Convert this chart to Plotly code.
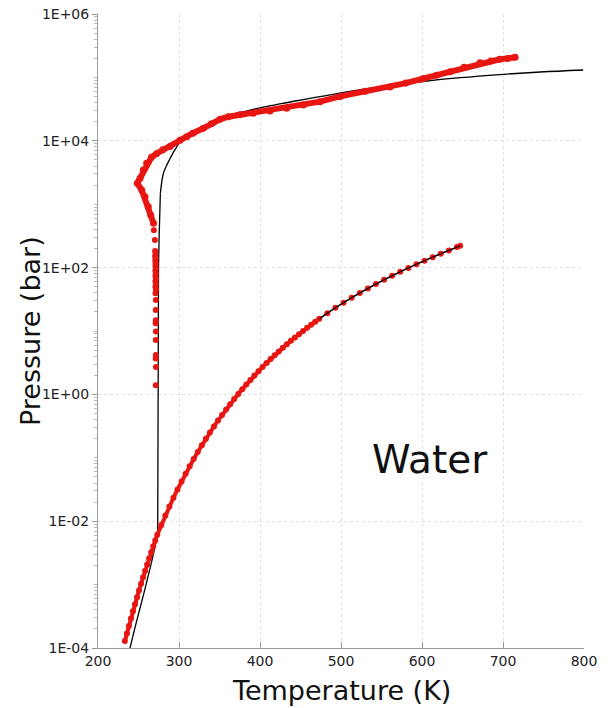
import plotly.graph_objects as go

# ---------------- data (T in K, P in bar) ----------------
# Red: measured vapour / sublimation curve (dense part)
vap_T = [233.15, 235.65, 238.15, 240.65, 243.15, 245.65, 248.15, 250.65, 253.15, 255.65,
         258.15, 260.65, 263.15, 265.65, 268.15, 270.65, 273.15, 278.15, 283.15, 288.15,
         293.15, 298.15, 303.15, 308.15, 313.15, 318.15, 323.15, 328.15, 333.15, 338.15,
         343.15, 348.15, 353.15, 358.15, 363.15, 368.15, 373.15, 378.15, 383.15, 388.15,
         393.15, 398.15, 403.15, 408.15, 413.15, 418.15, 423.15, 428.15, 433.15, 438.15,
         443.15, 448.15, 453.15, 458.15, 463.15, 468.15, 473.15]
vap_P = [1.284e-4, 1.70e-4, 2.233e-4, 2.93e-4, 3.80e-4, 4.92e-4, 6.33e-4, 8.10e-4, 1.032e-3, 1.31e-3,
         1.652e-3, 2.07e-3, 2.599e-3, 3.24e-3, 4.017e-3, 4.96e-3, 6.11e-3, 8.72e-3, 1.228e-2, 1.705e-2,
         2.339e-2, 3.169e-2, 4.246e-2, 5.628e-2, 7.384e-2, 9.593e-2, 0.1235, 0.1576, 0.1995, 0.2504,
         0.3120, 0.3860, 0.4741, 0.5787, 0.7018, 0.8461, 1.0142, 1.2090, 1.4338, 1.6918,
         1.9867, 2.3222, 2.7028, 3.1322, 3.6154, 4.1568, 4.7616, 5.4349, 6.1823, 7.0093,
         7.9219, 8.9260, 10.028, 11.233, 12.552, 13.989, 15.549]
# Red: measured vapour curve (sparse part up to the critical point)
vap2_T = [483.15, 493.15, 503.15, 513.15, 523.15, 533.15, 543.15, 553.15, 563.15, 573.15,
          583.15, 593.15, 603.15, 613.15, 623.15, 633.15, 643.15, 647.1]
vap2_P = [19.08, 23.20, 27.97, 33.47, 39.76, 46.92, 55.03, 64.17, 74.42, 85.88,
          98.65, 112.8, 128.6, 146.0, 165.3, 186.7, 210.4, 220.6]

# Red: melting points, scattered low-pressure part
melt_lo_T = [271.3, 271.5, 271.2, 271.4, 271.3, 271.5, 271.2, 271.4, 271.3, 271.4,
             271.0, 271.6, 270.9, 271.5, 270.8, 271.6, 270.9, 271.4, 270.8, 271.5,
             270.9, 271.3, 270.7, 271.2, 270.6, 271.0, 270.5, 270.2, 269.0]
melt_lo_P = [1.4, 2.7, 3.7, 4.2, 7.2, 9.8, 13.2, 14.8, 21.4, 30.9,
             39.4, 45, 50, 55, 61, 67, 74, 81, 89, 98,
             107, 117, 128, 140, 151, 165, 182, 272, 390]
# Red: melting curve, continuous part (ice Ih -> VII)
melt_T = [268.5, 265.1, 262.1, 258.0, 254.0, 248.5, 251.9, 255.9, 260.1, 266.0,
          272.5, 280.0, 288.9, 301.2, 309.5, 317.0, 330.0, 340.0, 350.6, 360.9,
          375.0, 391.7, 412.3, 433.0, 453.5, 474.0, 499.0, 530.0, 560.5, 580.0,
          601.0, 618.0, 634.6, 652.0, 671.6, 685.0, 696.0, 706.0, 715.0]
melt_P = [500, 676, 912, 1312, 1675, 2138, 2570, 3467, 4416, 5495,
          6310, 7200, 8128, 10230, 11610, 13180, 15740, 18620, 21830, 23990,
          25700, 27160, 29510, 32580, 36730, 41400, 50120, 60260, 70790, 81280,
          95500, 108400, 123000, 144500, 169800, 182000, 192800, 199500, 207500]

# Black: model vapour-pressure curve
mvap_T = [239.5, 248.0, 257.0, 265.5, 273.6, 283.15, 293.15, 303.15, 313.15, 323.15,
          333.15, 343.15, 353.15, 363.15, 373.15, 393.15, 413.15, 433.15, 453.15, 473.15,
          493.15, 513.15, 533.15, 553.15, 573.15, 593.15, 613.15, 633.15, 647.1]
mvap_P = [1.0e-4, 2.75e-4, 7.6e-4, 2.1e-3, 5.8e-3, 1.25e-2, 2.36e-2, 4.25e-2, 7.38e-2, 0.1235,
          0.1995, 0.3120, 0.4741, 0.7018, 1.0142, 1.9867, 3.6154, 6.1823, 10.028, 15.549,
          23.20, 33.47, 46.92, 64.17, 85.88, 112.8, 146.0, 186.7, 220.6]
# Black: model melting curve, near-vertical low-pressure part
mmelt_lo_T = [273.7, 273.9, 274.7, 275.5, 276.2, 277.0]
mmelt_lo_P = [6.0e-3, 1.0, 100, 316, 708, 1480]
# Black: model melting curve, high-pressure part
mmelt_T = [277.0, 280.6, 285.0, 289.0, 295.0, 303.3, 313.6, 330.0, 345.0, 360.9,
           380.0, 400.0, 420.0, 440.0, 460.0, 480.0, 500.0, 530.0, 560.5, 601.0,
           647.0, 696.0, 746.0, 799.0]
mmelt_P = [1480, 3020, 4170, 5250, 7240, 10230, 12880, 16790, 20890, 25120,
           28840, 33110, 37150, 41690, 46240, 51290, 56890, 66070, 74130, 86100,
           98860, 110900, 121600, 130900]

y_tickvals = [1e-4, 1e-2, 1, 1e2, 1e4, 1e6]
y_ticktext = ["1E-04", "1E-02", "1E+00", "1E+02", "1E+04", "1E+06"]
x_tickvals = [200, 300, 400, 500, 600, 700, 800]

RED = "rgb(232,22,18)"
FONT = "DejaVu Sans"

fig = go.Figure()
# black model curves
fig.add_trace(go.Scatter(x=mvap_T, y=mvap_P, mode="lines", line_shape="spline",
                         line=dict(color="black", width=1.3), hoverinfo="skip"))
fig.add_trace(go.Scatter(x=mmelt_lo_T, y=mmelt_lo_P, mode="lines",
                         line=dict(color="black", width=1.3), hoverinfo="skip"))
fig.add_trace(go.Scatter(x=mmelt_T, y=mmelt_P, mode="lines", line_shape="spline",
                         line=dict(color="black", width=1.3), hoverinfo="skip"))
# red measured data
fig.add_trace(go.Scatter(x=vap_T, y=vap_P, mode="lines+markers",
                         line=dict(color=RED, width=4),
                         marker=dict(color=RED, size=6)))
fig.add_trace(go.Scatter(x=vap2_T, y=vap2_P, mode="markers",
                         marker=dict(color=RED, size=6)))
fig.add_trace(go.Scatter(x=melt_lo_T, y=melt_lo_P, mode="markers",
                         marker=dict(color=RED, size=6)))
fig.add_trace(go.Scatter(x=melt_T, y=melt_P, mode="lines+markers",
                         line=dict(color=RED, width=6),
                         marker=dict(color=RED, size=7)))
# black vapour line drawn again on top of the sparse dots
fig.add_trace(go.Scatter(x=mvap_T[19:], y=mvap_P[19:], mode="lines", line_shape="spline",
                         line=dict(color="black", width=1.1), hoverinfo="skip"))

minor_vals = [k * 10.0 ** n for n in range(-4, 6) for k in range(2, 10)] + \
             [10.0 ** n for n in (-3, -1, 1, 3, 5)]

fig.update_layout(
    width=611, height=708,
    margin=dict(l=98, r=27, t=14, b=60),
    paper_bgcolor="white", plot_bgcolor="white",
    showlegend=False,
    font=dict(family=FONT, color="#222"),
    xaxis=dict(
        range=[200, 800], tickvals=x_tickvals,
        showline=True, linecolor="#999", linewidth=1,
        ticks="inside", ticklen=6, tickcolor="#999",
        showgrid=True, gridcolor="#e0e0e0", griddash="dot", gridwidth=1,
        zeroline=False, tickfont=dict(size=14, family=FONT, color="#222"),
        ticklabeloverflow="allow",
        automargin=False,
    ),
    yaxis=dict(
        type="log", range=[-4, 6],
        tickvals=y_tickvals, ticktext=y_ticktext,
        showline=True, linecolor="#999", linewidth=1,
        ticks="outside", ticklen=5, tickcolor="#999",
        minor=dict(tickvals=minor_vals, ticks="outside", ticklen=3,
                   tickcolor="#bbb", showgrid=False),
        showgrid=True, gridcolor="#e0e0e0", griddash="dot", gridwidth=1,
        zeroline=False, tickfont=dict(size=14, family=FONT, color="#222"),
        ticklabeloverflow="allow",
        automargin=False,
    ),
    annotations=[
        dict(x=610, y=-1.03, xref="x", yref="y", text="Water",
             showarrow=False, font=dict(size=39, family=FONT, color="#111")),
        dict(x=0.5, y=0, xref="paper", yref="paper", yshift=-42,
             xanchor="center", yanchor="middle", text="Temperature (K)",
             showarrow=False, font=dict(size=27, family=FONT, color="#111")),
        dict(x=0, y=0.5, xref="paper", yref="paper", xshift=-68,
             xanchor="center", yanchor="middle", textangle=-90, text="Pressure (bar)",
             showarrow=False, font=dict(size=27, family=FONT, color="#111")),
    ],
)

# remove the browser's default 8px body margin so the figure fills the window
fig.write_html("out.html", config={"displayModeBar": False},
               post_script="document.body.style.margin='0px';document.body.style.overflow='hidden';")
